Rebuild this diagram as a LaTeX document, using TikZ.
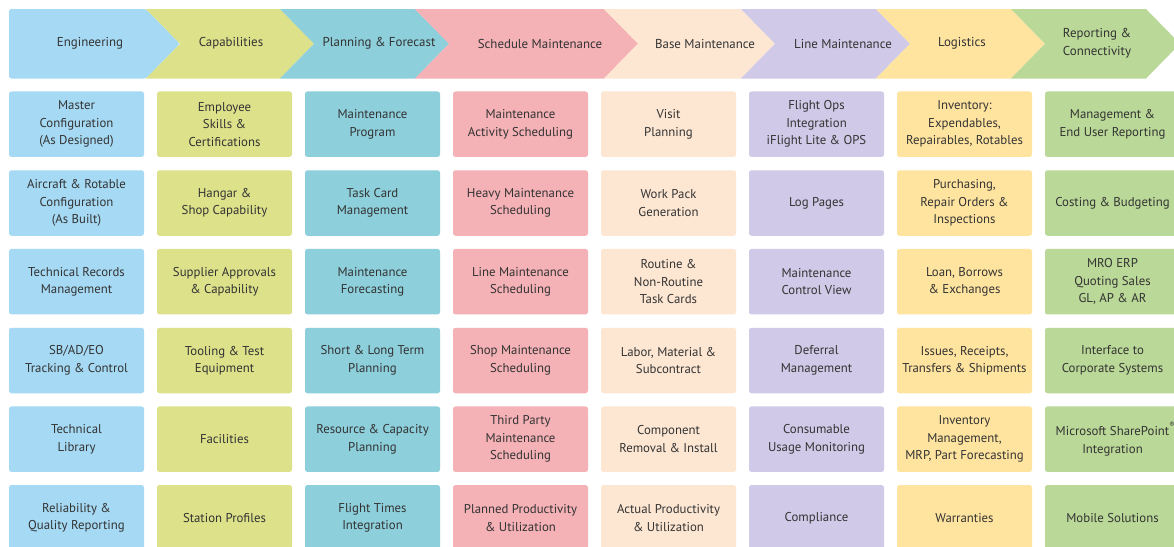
\documentclass[tikz,border=0pt]{standalone}
\usepackage{fontspec}
\setmainfont{PT Sans}
\definecolor{ceng}{HTML}{A6DAF4}
\definecolor{ccap}{HTML}{DCE18A}
\definecolor{cpla}{HTML}{8DCFDB}
\definecolor{csch}{HTML}{F4B1B6}
\definecolor{cbas}{HTML}{FDE7D3}
\definecolor{clin}{HTML}{D0C9E7}
\definecolor{clgs}{HTML}{FFE4A0}
\definecolor{crep}{HTML}{BAD897}
\definecolor{ctxt}{HTML}{333333}
\newcommand\chev[3]{\fill[fill=#1] (#2,9) -- (#3,9) -- (#3+34,43.75) -- (#3,78.5) -- (#2,78.5) -- (#2+34,43.75) -- cycle;}
\begin{document}
\begin{tikzpicture}[x=1pt,y=-1pt,
  box/.style={rounded corners=2.5pt, minimum width=135pt, minimum height=65.5pt, inner sep=0pt,
    align=center, text=ctxt, font=\fontsize{12.8}{17.5}\selectfont},
  htext/.style={align=center, text=ctxt, font=\fontsize{12.9}{18}\selectfont, inner sep=0pt}]
\useasboundingbox (0,0) rectangle (1174,546);
\fill[white] (0,0) rectangle (1174,546);
% header chevrons
\fill[fill=ceng, rounded corners=2.5pt] (9,9) -- (146,9) -- (180,43.75) -- (146,78.5) -- (9,78.5) -- cycle;
\chev{ccap}{146}{280}
\chev{cpla}{280}{415}
\chev{csch}{415}{604}
\chev{cbas}{604}{741}
\chev{clin}{741}{876}
\chev{clgs}{876}{1011}
\chev{crep}{1011}{1146}
\node[htext] (h1) at (90,43.5) {Engineering};
\node[htext] (h2) at (231,43.5) {Capabilities};
\node[htext] (h3) at (379,43.5) {Planning \& Forecast};
\node[htext] (h4) at (540,44) {Schedule Maintenance};
\node[htext] (h5) at (705,44) {Base Maintenance};
\node[htext] (h6) at (843,44) {Line Maintenance};
\node[htext] (h7) at (962,43.5) {Logistics};
\node[htext] (h8) at (1097,43) {Reporting \&\\Connectivity};
% column 1
\node[box,fill=ceng] (e1) at (76.5,124.2) {Master\\Configuration\\(As Designed)};
\node[box,fill=ceng] (e2) at (76.5,203) {Aircraft \& Rotable\\Configuration\\(As Built)};
\node[box,fill=ceng] (e3) at (76.5,281.7) {Technical Records\\Management};
\node[box,fill=ceng] (e4) at (76.5,360.5) {SB/AD/EO\\Tracking \& Control};
\node[box,fill=ceng] (e5) at (76.5,439.2) {Technical\\Library};
\node[box,fill=ceng] (e6) at (76.5,517.8) {Reliability \&\\Quality Reporting};
% column 2
\node[box,fill=ccap] (c1) at (224.5,124.2) {Employee\\Skills \&\\Certifications};
\node[box,fill=ccap] (c2) at (224.5,203) {Hangar \&\\Shop Capability};
\node[box,fill=ccap] (c3) at (224.5,281.7) {Supplier Approvals\\\& Capability};
\node[box,fill=ccap] (c4) at (224.5,360.5) {Tooling \& Test\\Equipment};
\node[box,fill=ccap] (c5) at (224.5,439.2) {Facilities};
\node[box,fill=ccap] (c6) at (224.5,517.8) {Station Profiles};
% column 3
\node[box,fill=cpla] (p1) at (372.5,124.2) {Maintenance\\Program};
\node[box,fill=cpla] (p2) at (372.5,203) {Task Card\\Management};
\node[box,fill=cpla] (p3) at (372.5,281.7) {Maintenance\\Forecasting};
\node[box,fill=cpla] (p4) at (372.5,360.5) {Short \& Long Term\\Planning};
\node[box,fill=cpla] (p5) at (372.5,439.2) {Resource \& Capacity\\Planning};
\node[box,fill=cpla] (p6) at (372.5,517.8) {Flight Times\\Integration};
% column 4
\node[box,fill=csch] (s1) at (520.5,124.2) {Maintenance\\Activity Scheduling};
\node[box,fill=csch] (s2) at (520.5,203) {Heavy Maintenance\\Scheduling};
\node[box,fill=csch] (s3) at (520.5,281.7) {Line Maintenance\\Scheduling};
\node[box,fill=csch] (s4) at (520.5,360.5) {Shop Maintenance\\Scheduling};
\node[box,fill=csch] (s5) at (520.5,439.2) {Third Party\\Maintenance\\Scheduling};
\node[box,fill=csch] (s6) at (520.5,517.8) {Planned Productivity\\\& Utilization};
% column 5
\node[box,fill=cbas] (b1) at (668.5,124.2) {Visit\\Planning};
\node[box,fill=cbas] (b2) at (668.5,203) {Work Pack\\Generation};
\node[box,fill=cbas] (b3) at (668.5,281.7) {Routine \&\\Non-Routine\\Task Cards};
\node[box,fill=cbas] (b4) at (668.5,360.5) {Labor, Material \&\\Subcontract};
\node[box,fill=cbas] (b5) at (668.5,439.2) {Component\\Removal \& Install};
\node[box,fill=cbas] (b6) at (668.5,517.8) {Actual Productivity\\\& Utilization};
% column 6
\node[box,fill=clin] (l1) at (816.5,124.2) {Flight Ops\\Integration\\iFlight Lite \& OPS};
\node[box,fill=clin] (l2) at (816.5,203) {Log Pages};
\node[box,fill=clin] (l3) at (816.5,281.7) {Maintenance\\Control View};
\node[box,fill=clin] (l4) at (816.5,360.5) {Deferral\\Management};
\node[box,fill=clin] (l5) at (816.5,439.2) {Consumable\\Usage Monitoring};
\node[box,fill=clin] (l6) at (816.5,517.8) {Compliance};
% column 7
\node[box,fill=clgs] (g1) at (964.5,124.2) {Inventory:\\Expendables,\\Repairables, Rotables};
\node[box,fill=clgs] (g2) at (964.5,203) {Purchasing,\\Repair Orders \&\\Inspections};
\node[box,fill=clgs] (g3) at (964.5,281.7) {Loan, Borrows\\\& Exchanges};
\node[box,fill=clgs] (g4) at (964.5,360.5) {Issues, Receipts,\\Transfers \& Shipments};
\node[box,fill=clgs] (g5) at (964.5,439.2) {Inventory\\Management,\\MRP, Part Forecasting};
\node[box,fill=clgs] (g6) at (964.5,517.8) {Warranties};
% column 8
\node[box,fill=crep] (r1) at (1112.5,124.2) {Management \&\\End User Reporting};
\node[box,fill=crep] (r2) at (1112.5,203) {Costing \& Budgeting};
\node[box,fill=crep] (r3) at (1112.5,281.7) {MRO ERP\\Quoting Sales\\GL, AP \& AR};
\node[box,fill=crep] (r4) at (1112.5,360.5) {Interface to\\Corporate Systems};
\node[box,fill=crep] (r5) at (1112.5,439.2) {Microsoft SharePoint\rlap{\raisebox{0.62em}{\fontsize{7.5}{7.5}\selectfont ®}}\\Integration};
\node[box,fill=crep] (r6) at (1112.5,517.8) {Mobile Solutions};
\end{tikzpicture}
\end{document}
